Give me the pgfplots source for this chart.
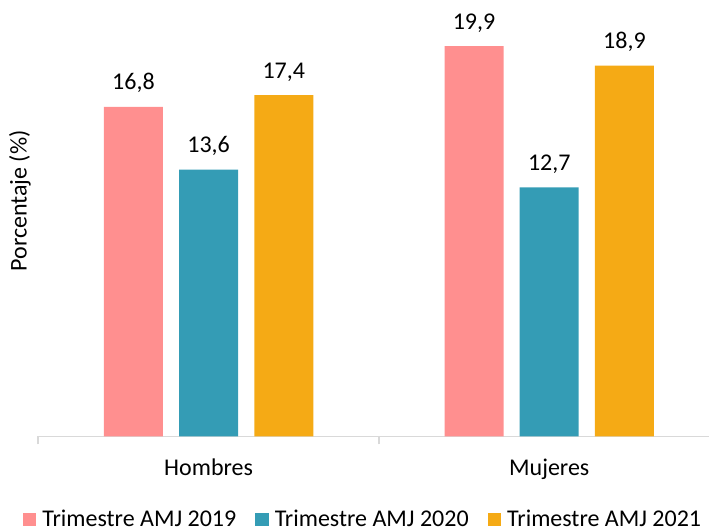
\documentclass[border=0pt]{standalone}
\usepackage{fontspec}
\setmainfont{Carlito}
\usepackage{pgfplots}
\pgfplotsset{compat=1.18}
\definecolor{cpink}{HTML}{FF8F8F}
\definecolor{cteal}{HTML}{349CB5}
\definecolor{corange}{HTML}{F5AA15}
\definecolor{cline}{HTML}{D9D9D9}
\begin{document}
\begin{tikzpicture}
\useasboundingbox (0,0) rectangle (354.5pt,265.5pt);
\begin{axis}[
 at={(19.15pt,47.25pt)}, anchor=south west,
 scale only axis, width=335.35pt, height=218.25pt,
 xmin=-0.5, xmax=1.469, ymin=0, ymax=22.25,
 ybar=8.1pt, bar width=29.5pt,
 axis x line*=bottom, axis y line*=left,
 y axis line style={draw=none}, ytick=\empty,
 x axis line style={cline, line width=0.8pt},
 xtick={0,1}, xticklabels={Hombres,Mujeres},
 major tick length=0pt,
 major x tick style={draw=none},
 minor xtick={-0.5,0.5,1.5},
 minor x tick style={cline, line width=0.8pt},
 minor tick length=4pt, tick align=outside,
 xticklabel style={anchor=base, yshift=-19.75pt},
 font=\fontsize{12}{14.4}\selectfont,
 ylabel={Porcentaje (\%)},
 ylabel style={at={(axis description cs:-0.0273,0.5395)}, anchor=center},
 nodes near coords={\pgfmathprintnumber[fixed,fixed zerofill,precision=1,use comma,assume math mode=true]{\pgfplotspointmeta}},
 nodes near coords style={anchor=base, inner sep=0pt, yshift=8.5pt, font=\fontsize{12}{14.4}\selectfont, text=black},
 legend style={at={(axis description cs:0.4826,-0.1905)}, anchor=center, draw=none, fill=none, legend columns=3, font=\fontsize{12}{14.4}\selectfont,
   nodes={inner sep=0pt},
   /tikz/every odd column/.append style={column sep=3pt},
   /tikz/every even column/.append style={column sep=9.5pt}},
 legend image code/.code={\fill[#1] (0pt,-3.25pt) rectangle (6.75pt,3.5pt);},
]
\addplot[fill=cpink, draw=none] coordinates {(0,16.8) (1,19.9)};
\addplot[fill=cteal, draw=none] coordinates {(0,13.6) (1,12.7)};
\addplot[fill=corange, draw=none] coordinates {(0,17.4) (1,18.9)};
\legend{Trimestre AMJ 2019, Trimestre AMJ 2020, Trimestre AMJ 2021}
\end{axis}
\end{tikzpicture}
\end{document}
